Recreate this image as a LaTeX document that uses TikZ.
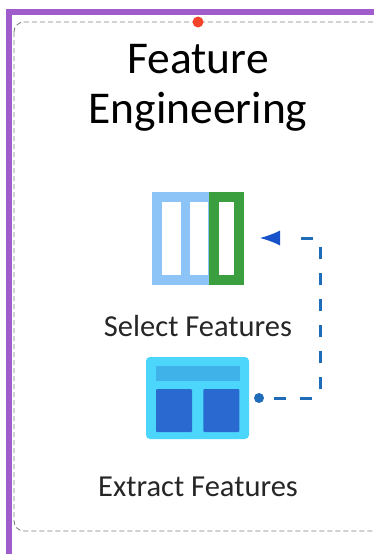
\documentclass[tikz,border=0pt]{standalone}
\usepackage{fontspec}
\setmainfont{Carlito}
\usetikzlibrary{positioning, arrows.meta}
\definecolor{framepurple}{HTML}{A05CCB}
\definecolor{dotred}{HTML}{F4452C}
\definecolor{columnblue}{HTML}{8CC4F8}
\definecolor{columngreen}{HTML}{3B9E3F}
\definecolor{panelcyan}{HTML}{4CD6FB}
\definecolor{barblue}{HTML}{3FB2EA}
\definecolor{cellblue}{HTML}{2A6AD0}
\definecolor{linkblue}{HTML}{1F6DB8}
\tikzset{
	every text node part/.style= {
		align=center
	},
	title/.style= {
		text=black,
		font=\fontsize{45.5}{50}\selectfont
	},
	caption/.style= {
		text=black!85,
		font=\fontsize{30.5}{36}\selectfont
	},
	window/.style= {
		rectangle,
		fill=white,
		inner sep=0pt,
		minimum width=#1,
		minimum height=73pt
	},
	cell/.style= {
		rectangle,
		rounded corners=1pt,
		fill=cellblue,
		inner sep=0pt,
		minimum width=36pt,
		minimum height=43pt
	},
	link/.style= {
		linkblue,
		line width=3pt,
		dash pattern=on 12pt off 14pt,
		dash phase=11pt,
		rounded corners=6pt
	}
}
\begin{document}
\begin{tikzpicture}[x=1pt,y=-1pt]

	\useasboundingbox (0,0) rectangle (374,554);
	\fill[white] (0,0) rectangle (374,554);

	\draw[framepurple, line width=6pt] (9,560) |- (380,12);
	\draw[black!50, line width=0.9pt, dash pattern=on 5pt off 3pt, rounded corners=10pt] (14,22) rectangle (400,531);
	\node (pin)[circle, fill=dotred, inner sep=0pt, minimum size=11pt] at (198,22) {};

	\node (title)[title] at (198,88) {Feature\\Engineering};

	% selected columns
	\node (columns)[rectangle, fill=columnblue, inner sep=0pt, minimum width=57pt, minimum height=93pt] at (180.5,238.5) {};
	\node (chosen)[rectangle, fill=columngreen, inner sep=0pt, minimum width=35pt, minimum height=93pt, right=0pt of columns] {};
	\node (columnA)[window=19pt] at (171.5,238.5) {};
	\node (columnB)[window=18pt, right=9pt of columnA] {};
	\node (columnC)[window=15pt] at (chosen) {};
	\node (select)[caption] at (198,326) {Select Features};

	% extracted panel
	\node (panel)[rectangle, rounded corners=4pt, fill=panelcyan, inner sep=0pt, minimum width=103pt, minimum height=82pt] at (197.5,398) {};
	\node (bar)[rectangle, fill=barblue, inner sep=0pt, minimum width=84pt, minimum height=15pt] at (198,373.5) {};
	\node (cellA)[cell] at (174,410.5) {};
	\node (cellB)[cell, right=11pt of cellA] {};
	\node (extract)[caption] at (198,487) {Extract Features};

	\node (source)[circle, fill=linkblue, inner sep=0pt, minimum size=10pt] at (259,398) {};
	\coordinate (target) at (260,238);
	\draw[link] (source.center) -| (320,238) -- (290,238);
	\draw[-{Latex[length=20pt,width=15pt]}, linkblue!75!blue, line width=1pt] (279,238) to (target);

\end{tikzpicture}
\end{document}
